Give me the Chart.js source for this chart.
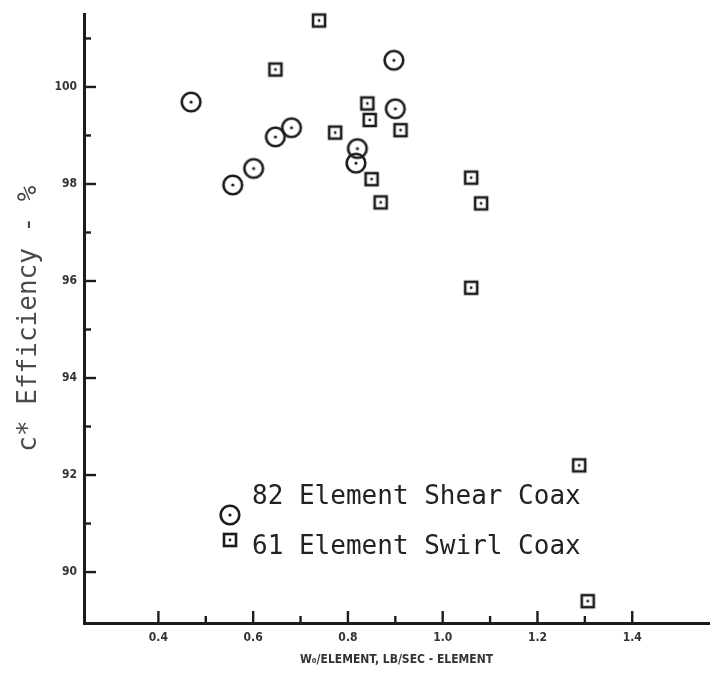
<!DOCTYPE html>
<html>
<head>
<meta charset="utf-8">
<script src="https://cdn.jsdelivr.net/npm/chart.js@4.4.1/dist/chart.umd.min.js"></script>
<style>
  html, body { margin: 0; padding: 0; background: #fff; }
  #wrap { width: 720px; height: 677px; }
</style>
</head>
<body>
<div id="wrap"><canvas id="grafico" width="720" height="677"></canvas></div>
<script>
// 82 element shear coax (circles)
const shearX = [0.469, 0.557, 0.601, 0.647, 0.681, 0.817, 0.820, 0.897, 0.900];
const shearY = [99.69, 97.98, 98.32, 98.97, 99.16, 98.43, 98.73, 100.55, 99.55];
// 61 element swirl coax (squares)
const swirlX = [0.647, 0.739, 0.773, 0.841, 0.846, 0.850, 0.869, 0.911, 1.060, 1.081, 1.060, 1.288, 1.306];
const swirlY = [100.36, 101.37, 99.06, 99.66, 99.32, 98.10, 97.62, 99.11, 98.13, 97.60, 95.86, 92.20, 89.40];

const xTickLabels = ['0.4', '0.6', '0.8', '1.0', '1.2', '1.4'];
const yTickLabels = ['90', '92', '94', '96', '98', '100'];
const legendLabels = ['82 Element Shear Coax', '61 Element Swirl Coax'];
const xTitulo = 'W\u2080/ELEMENT, LB/SEC - ELEMENT';
const yTitulo = 'c* Efficiency - %';

const xMin = 0.243, xMax = 1.562;
const yMin = 88.95, yMax = 101.5;

const tinta = '#1c1c1c';
const fuenteEstrecha = "'Liberation Sans Narrow', 'DejaVu Sans Condensed', sans-serif";

function hacerCirculo() {
    const c = document.createElement('canvas');
    c.width = c.height = 26;
    const g = c.getContext('2d');
    g.strokeStyle = tinta; g.lineWidth = 2.6;
    g.beginPath(); g.arc(13, 13, 9.3, 0, Math.PI * 2); g.stroke();
    g.fillStyle = tinta;
    g.beginPath(); g.arc(13, 13, 1.6, 0, Math.PI * 2); g.fill();
    return c;
}

function hacerCuadro() {
    const c = document.createElement('canvas');
    c.width = c.height = 20;
    const g = c.getContext('2d');
    g.strokeStyle = tinta; g.lineWidth = 2.6;
    g.strokeRect(4, 4, 12, 12);
    g.fillStyle = tinta;
    g.beginPath(); g.arc(10, 10, 1.4, 0, Math.PI * 2); g.fill();
    return c;
}

const imgCirculo = hacerCirculo();
const imgCuadro = hacerCuadro();

// marcas hacia dentro: largas en las etiquetadas, cortas en las demás
const marcasPlugin = {
    id: 'marcas',
    afterDraw(chart) {
        const ctx = chart.ctx;
        const xs = chart.scales.x, ys = chart.scales.y;
        const area = chart.chartArea;
        ctx.save();
        ctx.strokeStyle = tinta;
        ctx.lineWidth = 2.4;
        xs.ticks.forEach(t => {
            const k = Math.round(t.value * 10);
            if (k < 4 || k > 14) return;
            const len = k % 2 === 0 ? 12 : 7;
            const px = xs.getPixelForValue(t.value);
            ctx.beginPath(); ctx.moveTo(px, area.bottom); ctx.lineTo(px, area.bottom - len); ctx.stroke();
        });
        ys.ticks.forEach(t => {
            const k = Math.round(t.value);
            if (k < 90) return;
            const len = k % 2 === 0 ? 12 : 7;
            const py = ys.getPixelForValue(t.value);
            ctx.beginPath(); ctx.moveTo(area.left, py); ctx.lineTo(area.left + len, py); ctx.stroke();
        });
        ctx.restore();
    }
};

const leyendaPlugin = {
    id: 'leyenda',
    afterDraw(chart) {
        const ctx = chart.ctx;
        ctx.save();
        ctx.drawImage(imgCirculo, 230 - 13, 515 - 13);
        ctx.drawImage(imgCuadro, 230 - 10, 540 - 10);
        ctx.fillStyle = '#222';
        ctx.font = "26px 'DejaVu Sans Mono', monospace";
        ctx.textBaseline = 'middle';
        ctx.textAlign = 'left';
        ctx.fillText(legendLabels[0], 252, 497);
        ctx.fillText(legendLabels[1], 252, 547);
        ctx.restore();
    }
};

const ctx = document.getElementById('grafico').getContext('2d');
new Chart(ctx, {
    type: 'scatter',
    data: {
        datasets: [
            {
                label: legendLabels[0],
                data: shearX.map((x, i) => ({ x: x, y: shearY[i] })),
                pointStyle: imgCirculo,
                pointRadius: 10,
                clip: false
            },
            {
                label: legendLabels[1],
                data: swirlX.map((x, i) => ({ x: x, y: swirlY[i] })),
                pointStyle: imgCuadro,
                pointRadius: 8,
                clip: false
            }
        ]
    },
    options: {
        responsive: false,
        animation: false,
        events: [],
        layout: { padding: { left: 0, top: 12, right: 8, bottom: 0 } },
        scales: {
            x: {
                type: 'linear',
                min: xMin, max: xMax,
                afterFit: s => { s.height = 54; },
                grid: { drawOnChartArea: false, drawTicks: false },
                border: { display: true, color: tinta, width: 3 },
                ticks: {
                    stepSize: 0.1,
                    includeBounds: false,
                    autoSkip: false,
                    maxRotation: 0,
                    padding: 8,
                    color: '#333',
                    font: { family: fuenteEstrecha, size: 12, weight: 'bold' },
                    callback: v => {
                        const s = Number(v).toFixed(1);
                        return xTickLabels.includes(s) ? s : '';
                    }
                },
                title: {
                    display: true,
                    text: xTitulo,
                    color: '#333',
                    font: { family: fuenteEstrecha, size: 12, weight: 'bold' },
                    padding: { top: 0, bottom: 10 }
                }
            },
            y: {
                type: 'linear',
                min: yMin, max: yMax,
                afterFit: s => { s.width = 84; },
                grid: { drawOnChartArea: false, drawTicks: false },
                border: { display: true, color: tinta, width: 3 },
                ticks: {
                    stepSize: 1,
                    includeBounds: false,
                    autoSkip: false,
                    padding: 7,
                    color: '#333',
                    font: { family: fuenteEstrecha, size: 12, weight: 'bold' },
                    callback: v => {
                        const r = Math.round(v);
                        if (Math.abs(v - r) > 1e-6) return '';
                        const s = String(r);
                        return yTickLabels.includes(s) ? s : '';
                    }
                },
                title: {
                    display: true,
                    text: yTitulo,
                    color: '#4a4a4a',
                    font: { family: "'DejaVu Sans Mono', monospace", size: 26 },
                    padding: { top: 14, bottom: 0 }
                }
            }
        },
        plugins: {
            legend: { display: false },
            tooltip: { enabled: false }
        }
    },
    plugins: [marcasPlugin, leyendaPlugin]
});
</script>
</body>
</html>
